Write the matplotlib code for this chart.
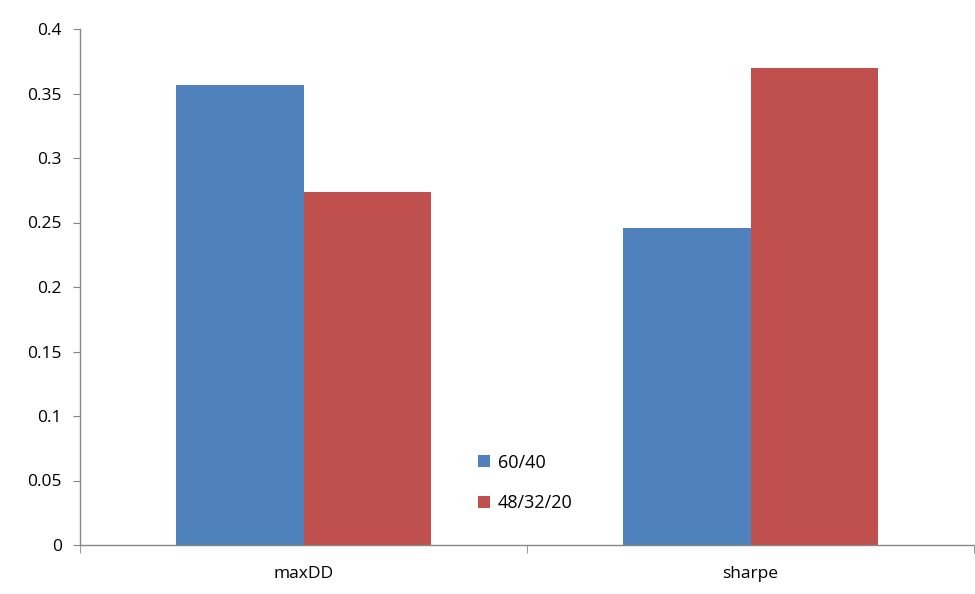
import matplotlib
matplotlib.use('Agg')
import numpy as np
from matplotlib import pyplot as plt

categories = ['maxDD', 'sharpe']
series_names = ['60/40', '48/32/20']
vals_6040 = [0.3566, 0.2457]
vals_483220 = [0.2736, 0.3698]
yticks = [0, 0.05, 0.1, 0.15, 0.2, 0.25, 0.3, 0.35, 0.4]
ytick_labels = ['0', '0.05', '0.1', '0.15', '0.2', '0.25', '0.3', '0.35', '0.4']

plt.rcParams['font.family'] = ['Open Sans', 'DejaVu Sans']

fig = plt.figure(figsize=(9.75, 5.94), dpi=100)
ax = fig.add_axes([80/975, 49/594, 894/975, 516/594])

x = np.arange(len(categories))
w = 0.286
ax.bar(x - w/2, vals_6040, w, color='#4F81BD', label=series_names[0])
ax.bar(x + w/2, vals_483220, w, color='#C0504D', label=series_names[1])

ax.set_xlim(-0.5, len(categories) - 0.5)
ax.set_ylim(0, 0.4)
ax.set_yticks(yticks)
ax.set_yticklabels(ytick_labels, fontsize=12.5)

# category labels centered, ticks at the boundaries
ax.set_xticks(x)
ax.set_xticklabels(categories, fontsize=12.5)
ax.tick_params(axis='x', length=0, pad=15)
ax.set_xticks(np.arange(len(categories) + 1) - 0.5, minor=True)
ax.tick_params(axis='x', which='minor', length=6, color='#868686', direction='out')
ax.tick_params(axis='y', length=5, color='#868686', direction='out', pad=8)

for s in ['top', 'right']:
    ax.spines[s].set_visible(False)
for s in ['left', 'bottom']:
    ax.spines[s].set_color('#868686')
    ax.spines[s].set_linewidth(1)

ax.legend(loc='center left', bbox_to_anchor=(0.427, 0.12), frameon=False,
          handlelength=0.65, handleheight=0.65, handletextpad=0.45,
          labelspacing=1.25, fontsize=13)

plt.savefig('out.png', dpi=100)
